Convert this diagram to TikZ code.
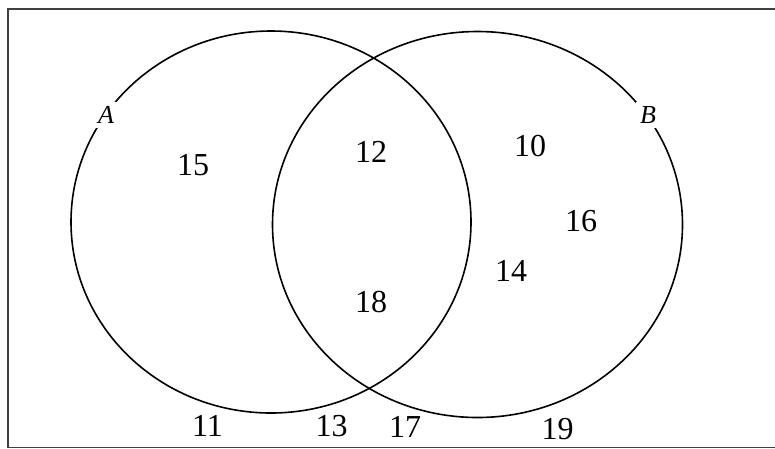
\documentclass[tikz,border=0pt]{standalone}
\usepackage{fontspec}
\setmainfont{Liberation Serif}
\usetikzlibrary{shapes.geometric}

\begin{document}
\begin{tikzpicture}[x=1pt, y=-1pt,
      setring/.style={ellipse, draw, line width=1.6pt, inner sep=0pt},
      setname/.style={fill=white, inner sep=4pt, font=\fontsize{26}{30}\selectfont\itshape},
      elem/.style={inner sep=0pt, font=\fontsize{32}{36}\selectfont},
      frame/.style={draw=black!75, line width=1.5pt}
    ]
    \useasboundingbox (0,0) rectangle (775,448);

    % --- universal set frame ---
    \draw[frame] (8,9) rectangle (782,447.5);

    % --- the two sets ---
    \node[setring, minimum width=400pt, minimum height=382pt] (setA) at (271,222) {};
    \node[setring, minimum width=410pt, minimum height=386pt] (setB) at (477.5,224.5) {};
    \node[setname] (nameA) at (106,115) {A};
    \node[setname] (nameB) at (648,115) {B};

    % --- elements ---
    \node[elem] (e15) at (193,165) {15};
    \node[elem] (e12) at (371,152) {12};
    \node[elem] (e18) at (371,302) {18};
    \node[elem] (e10) at (530,146) {10};
    \node[elem] (e16) at (581,221) {16};
    \node[elem] (e14) at (511,271) {14};
    \node[elem] (e11) at (207.5,426) {11};
    \node[elem] (e13) at (331.5,426) {13};
    \node[elem] (e17) at (405,427) {17};
    \node[elem] (e19) at (557.5,429) {19};
  \end{tikzpicture}
\end{document}
